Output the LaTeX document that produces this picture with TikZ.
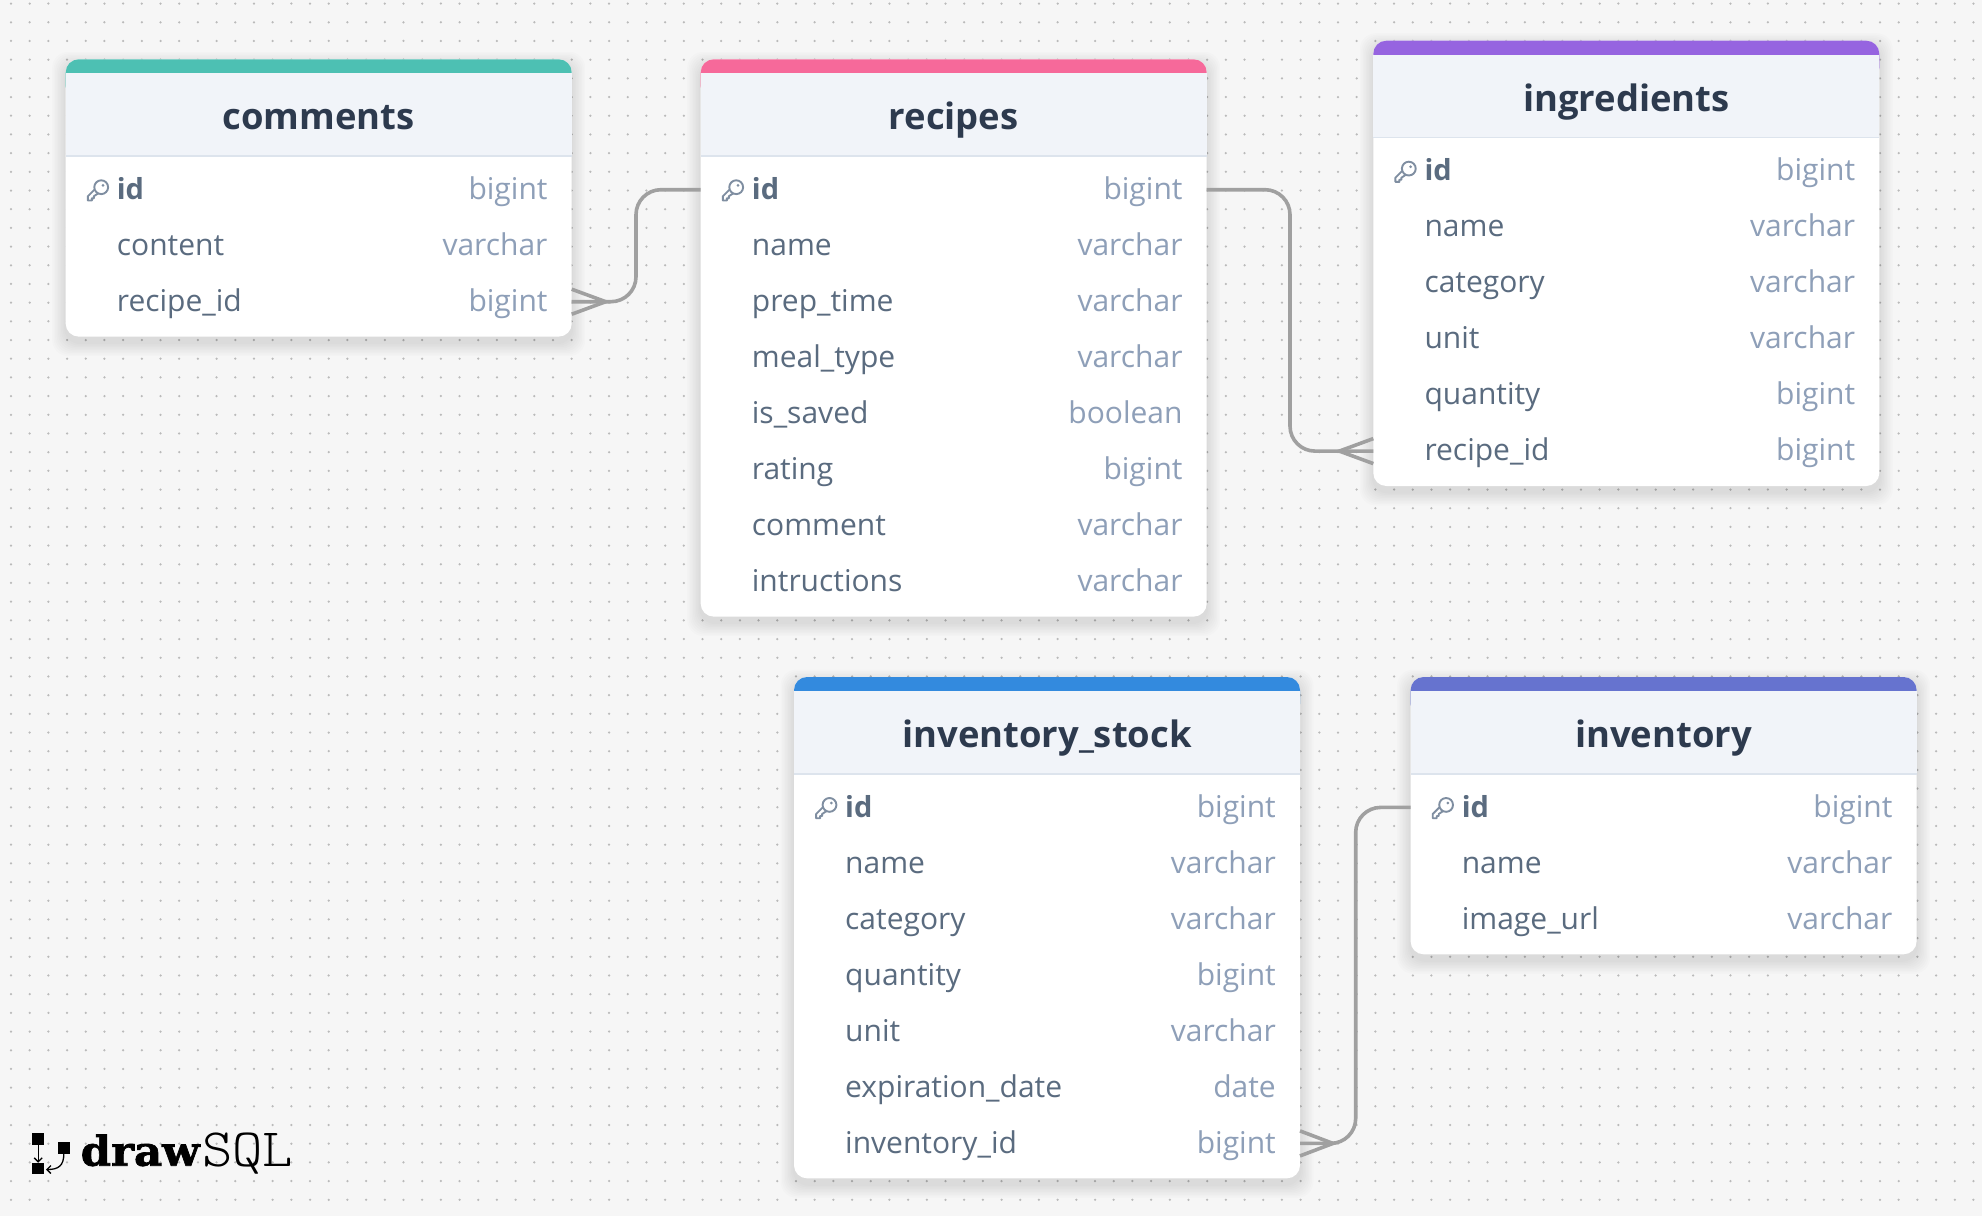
\documentclass[tikz,border=0pt]{standalone}
\usepackage{fontspec}
\setmainfont{Open Sans}
\newfontfamily\logobold{DejaVu Serif}[BoldFont={DejaVu Serif Bold},BoldFeatures={FakeBold=1.6}]
\usetikzlibrary{calc,arrows.meta}
\definecolor{bgc}{HTML}{F6F6F6}
\definecolor{dotc}{HTML}{BABABA}
\definecolor{hdrc}{HTML}{F1F4F9}
\definecolor{hdrline}{HTML}{DDE4ED}
\definecolor{titlec}{HTML}{2D3A4E}
\definecolor{fieldc}{HTML}{5A6B7F}
\definecolor{typec}{HTML}{8E9FB8}
\definecolor{keyc}{HTML}{7F8EA1}
\definecolor{linec}{HTML}{A0A0A0}
\definecolor{cteal}{HTML}{4DC0B3}
\definecolor{cpink}{HTML}{F6699A}
\definecolor{cpurple}{HTML}{9664E0}
\definecolor{cblue}{HTML}{338ADE}
\definecolor{cindigo}{HTML}{6673CF}
\tikzset{
  tablebody/.style={fill=white,rounded corners=13pt,minimum width=506pt,inner sep=0pt,outer sep=0pt,anchor=north west},
  rownode/.style={minimum width=506pt,minimum height=56pt,inner sep=0pt,outer sep=0pt},
  titletext/.style={font=\fontsize{36.4}{42}\selectfont\bfseries,text=titlec,anchor=base,inner sep=0pt},
  fieldtext/.style={font=\fontsize{30}{36}\selectfont,text=fieldc,anchor=base west,inner sep=0pt},
  keytext/.style={font=\fontsize{29}{36}\selectfont\bfseries,text=fieldc,anchor=base west,inner sep=0pt},
  typetext/.style={font=\fontsize{30}{36}\selectfont,text=typec,anchor=base east,inner sep=0pt},
  relation/.style={draw=linec,line width=3.6pt,rounded corners=25pt},
  crow/.style={draw=linec,line width=3.6pt,line join=miter},
  logosq/.style={fill=black,inner sep=0pt,outer sep=0pt,minimum width=12pt,minimum height=11.5pt},
  logoarrow/.style={draw=black,line width=1.3pt,-{Straight Barb[length=4pt,width=8pt]}},
}
\newcommand\keyicon[1]{%
  \begin{scope}[shift={(#1)}]
    \draw[keyc,line width=1.9pt,line cap=round,line join=round,fill=white]
      (-3.8,-0.6) -- (-10.4,6) -- (-10.4,10.2) -- (-6.4,10.2) -- (-6.4,8) -- (-4.4,8) -- (-4.4,6) -- (0.4,2.8);
    \draw[keyc,line width=1.9pt,fill=white] (3,-3.1) circle (6.9);
    \fill[keyc] (4.8,-5) circle (1.5);
  \end{scope}}
% name, x, y, title, colour, number of rows, rows
\newcommand\dbtable[7]{%
  \begin{scope}[shift={(#2,#3)}]
    \pgfmathsetmacro\tblh{129.3+56*(#6-1)+36}
    \foreach \i in {1,...,9}{
      \fill[black,opacity=0.011,rounded corners=16pt] (-\i*1.5,6-\i*1.5) rectangle (506+\i*1.5,\tblh+6+\i*1.5);
    }
    \node[tablebody,minimum height=\tblh pt] (#1) at (0,0) {};
    \fill[#5,rounded corners=13pt] (0,0) rectangle (506,40);
    \fill[hdrc] (0,14) rectangle (506,96.7);
    \fill[hdrline] (0,96) rectangle (506,97.6);
    \node[titletext] (#1-title) at (253,70.5) {#4};
    \foreach \n/\t [count=\c] in {#7}{
      \pgfmathsetmacro\ry{130.4+56*(\c-1)}
      \node[rownode] (#1-\c) at (253,\ry) {};
      \ifnum\c=1
        \node[keytext] (#1-\c-n) at (51,\ry+9.8) {\n};
        \keyicon{32.5,\ry+0.6}
      \else
        \node[fieldtext] (#1-\c-n) at (51,\ry+9.8) {\n};
      \fi
      \node[typetext] (#1-\c-t) at (482,\ry+9.8) {\t};
    }
  \end{scope}}
\newcommand\crowfoot[2]{% anchor, signed length
  \draw[crow] ($(#1)+(0,-12.5)$) -- ($(#1)+(#2,0)$) -- ($(#1)+(0,12.5)$);
}
\begin{document}
\begin{tikzpicture}[x=1pt,y=-1pt]
\useasboundingbox (0,0) rectangle (1982,1216);
\fill[bgc] (0,0) rectangle (1982,1216);
\foreach \i in {0,...,105}{
  \foreach \j in {0,...,64}{
    \fill[dotc] (11+18.69*\i,3.6+18.69*\j) circle (1.25);
  }
}
\dbtable{comments}{65.7}{59.3}{comments}{cteal}{3}{id/bigint,content/varchar,recipe\_id/bigint}
\dbtable{recipes}{700.7}{59.3}{recipes}{cpink}{8}{id/bigint,name/varchar,prep\_time/varchar,meal\_type/varchar,is\_saved/boolean,rating/bigint,comment/varchar,intructions/varchar}
\dbtable{ingredients}{1373.3}{40.7}{ingredients}{cpurple}{6}{id/bigint,name/varchar,category/varchar,unit/varchar,quantity/bigint,recipe\_id/bigint}
\dbtable{stock}{794}{677}{inventory\_stock}{cblue}{7}{id/bigint,name/varchar,category/varchar,quantity/bigint,unit/varchar,expiration\_date/date,inventory\_id/bigint}
\dbtable{inventory}{1410.6}{677}{inventory}{cindigo}{3}{id/bigint,name/varchar,image\_url/varchar}
\coordinate (via1) at (636,0);
\coordinate (via2) at (1290,0);
\coordinate (via3) at (1355.7,0);
\draw[relation] (comments-3.east) -- (comments-3.east -| via1) -- (via1 |- recipes-1.west) -- (recipes-1.west);
\crowfoot{comments-3.east}{34}
\draw[relation] (recipes-1.east) -- (recipes-1.east -| via2) -- (via2 |- ingredients-6.west) -- (ingredients-6.west);
\crowfoot{ingredients-6.west}{-34}
\draw[relation] (inventory-1.west) -- (inventory-1.west -| via3) -- (via3 |- stock-7.east) -- (stock-7.east);
\crowfoot{stock-7.east}{33}
% logo
\node[logosq] (sqa) at (38.2,1139) {};
\node[logosq] (sqb) at (38.2,1168.5) {};
\node[logosq] (sqc) at (63.8,1147.8) {};
\draw[logoarrow] (sqa.south) -- (sqb.north);
\draw[logoarrow] (sqc.south) .. controls (64,1166) and (58,1169.5) .. (46,1169.5);
\node[font=\logobold\bfseries\fontsize{41}{41}\selectfont,text=black,anchor=base west,inner sep=0pt,xscale=1.06] (logodraw) at (80.5,1165.7) {draw};
\node[font=\ttfamily\fontseries{l}\selectfont\fontsize{54}{54}\selectfont,text=black,anchor=base west,inner sep=0pt,xscale=1.07] (logosql) at (202,1166) {SQL};
\end{tikzpicture}
\end{document}
